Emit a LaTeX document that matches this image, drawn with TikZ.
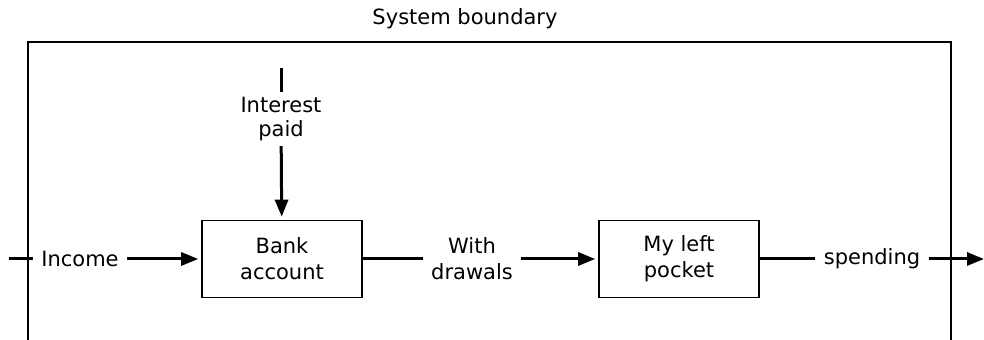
\documentclass[tikz,border=0pt]{standalone}
\usepackage{fontspec}
\setmainfont{DejaVu Sans}
\usetikzlibrary{arrows.meta}

\begin{document}
\begin{tikzpicture}[x=0.5pt, y=-0.5pt,
    every node/.style={font=\fontsize{10.5}{13}\selectfont},
    box/.style={draw, line width=0.8pt, minimum width=80pt, minimum height=38.5pt, align=center},
    lbl/.style={align=center, inner sep=4pt},
    flow/.style={line width=1.5pt},
    pfeil/.style={flow, -{Triangle[length=8.5pt, width=6.5pt]}, shorten >=1.5pt}]

    \useasboundingbox (0,0) rectangle (984,340);

    % 1. Systemgrenze (unten offen)
    \draw[line width=0.9pt] (28,340) -- (28,42) -- (951,42) -- (951,340);
    \node (boundary) at (465,19) {System boundary};

    % 2. Bestaende
    \node[box] (bank)   at (282,259) {Bank\\account};
    \node[box] (pocket) at (679,259) {My left\\pocket};

    % 3. Beschriftungen der Fluesse
    \node[lbl] (income)   at (80,259)  {Income};
    \node[lbl, inner sep=2.5pt, font=\fontsize{10.5}{12}\selectfont] (interest) at (281,119) {Interest\\paid};
    \node[lbl] (withdraw) at (472,259) {With\\drawals};
    \node[lbl] (spending) at (872,259) {spending};

    % freie Enden
    \coordinate (in)  at (9,259);
    \coordinate (top) at (281,68);
    \coordinate (out) at (984,259);

    % 4. Fluesse
    \draw[flow]  (in) -- (income);
    \draw[pfeil] (income) -- (bank);
    \draw[flow]  (top) -- (interest);
    \draw[pfeil] (interest) -- (bank);
    \draw[flow]  (bank) -- (withdraw);
    \draw[pfeil] (withdraw) -- (pocket);
    \draw[flow]  (pocket) -- (spending);
    \draw[pfeil, shorten >=0pt] (spending) -- (out);

\end{tikzpicture}
\end{document}
